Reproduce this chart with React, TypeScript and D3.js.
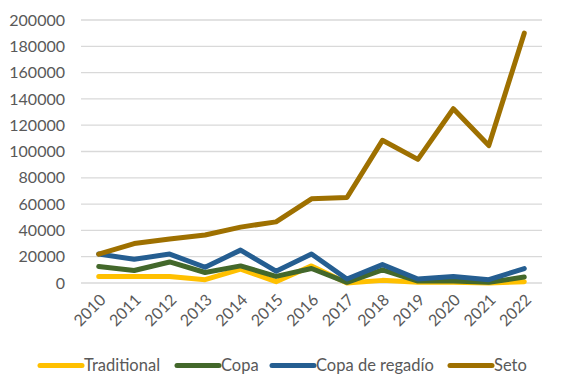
import React, { useEffect, useRef } from 'react';
import * as d3 from 'd3';

const years = ['2010', '2011', '2012', '2013', '2014', '2015', '2016', '2017', '2018', '2019', '2020', '2021', '2022'];
const traditional = [5000, 5000, 5000, 2500, 10500, 1000, 13000, 0, 2000, 500, 500, 0, 1000];
const copa = [12500, 9500, 16000, 8000, 13000, 5000, 11000, 500, 10000, 1500, 1500, 500, 4500];
const copaRegadio = [22000, 18000, 22000, 12000, 25000, 9000, 22000, 3000, 14000, 3000, 5000, 2500, 11000];
const seto = [22000, 30000, 33500, 36500, 42500, 46500, 64000, 65000, 108500, 94000, 132500, 104500, 190000];
const yTicks = [0, 20000, 40000, 60000, 80000, 100000, 120000, 140000, 160000, 180000, 200000];

const seriesNames = ['Traditional', 'Copa', 'Copa de regadío', 'Seto'];
const seriesValues = [traditional, copa, copaRegadio, seto];
const colors = ['#FFC000', '#43682B', '#255E91', '#9E7000'];

const App = () => {
  const ref = useRef<SVGSVGElement>(null);

  useEffect(() => {
    const svg = d3.select(ref.current);
    svg.selectAll('*').remove();

    const margin = { top: 20, right: 20, bottom: 107, left: 81 };
    const width = 562 - margin.left - margin.right;
    const height = 390 - margin.top - margin.bottom;
    const font = 'Lato, "Open Sans", sans-serif';

    const x = d3.scaleBand().domain(years).range([0, width]);
    const y = d3.scaleLinear().domain([0, 200000]).range([height, 0]);

    const g = svg.append('g').attr('transform', `translate(${margin.left},${margin.top})`);

    // gridlines
    g.selectAll('line.grid')
      .data(yTicks)
      .enter()
      .append('line')
      .attr('x1', 0)
      .attr('x2', width)
      .attr('y1', d => y(d))
      .attr('y2', d => y(d))
      .attr('stroke', '#D9D9D9')
      .attr('stroke-width', 1.3);

    // y labels
    g.selectAll('text.ytick')
      .data(yTicks)
      .enter()
      .append('text')
      .attr('x', -16)
      .attr('y', d => y(d))
      .attr('dy', '0.35em')
      .attr('text-anchor', 'end')
      .attr('fill', '#595959')
      .attr('font-family', font)
      .attr('font-size', 16)
      .text(d => d);

    // x labels
    g.selectAll('text.xtick')
      .data(years)
      .enter()
      .append('text')
      .attr('transform', d => `translate(${x(d)! + x.bandwidth() / 2 + 4},${height + 14}) rotate(-45)`)
      .attr('text-anchor', 'end')
      .attr('dy', '0.35em')
      .attr('fill', '#595959')
      .attr('font-family', font)
      .attr('font-size', 16)
      .text(d => d);

    const line = d3.line<number>()
      .x((_, i) => x(years[i])! + x.bandwidth() / 2)
      .y(d => y(d));

    seriesValues.forEach((vals, i) => {
      g.append('path')
        .datum(vals)
        .attr('d', line)
        .attr('fill', 'none')
        .attr('stroke', colors[i])
        .attr('stroke-width', 5)
        .attr('stroke-linecap', 'round')
        .attr('stroke-linejoin', 'round');
    });

    // legend
    const legendX = [40, 177, 272, 450];
    const legend = svg.append('g');
    seriesNames.forEach((name, i) => {
      legend.append('line')
        .attr('x1', legendX[i])
        .attr('x2', legendX[i] + 42)
        .attr('y1', 365.5)
        .attr('y2', 365.5)
        .attr('stroke', colors[i])
        .attr('stroke-width', 5)
        .attr('stroke-linecap', 'round');
      legend.append('text')
        .attr('x', legendX[i] + 44)
        .attr('y', 365.5)
        .attr('dy', '0.35em')
        .attr('fill', '#595959')
        .attr('font-family', font)
        .attr('font-size', 16.5)
        .text(name);
    });
  }, []);

  return (
    <svg ref={ref} width={562} height={390} style={{ position: 'absolute', left: 0, top: 0 }}></svg>
  );
};

export default App;
